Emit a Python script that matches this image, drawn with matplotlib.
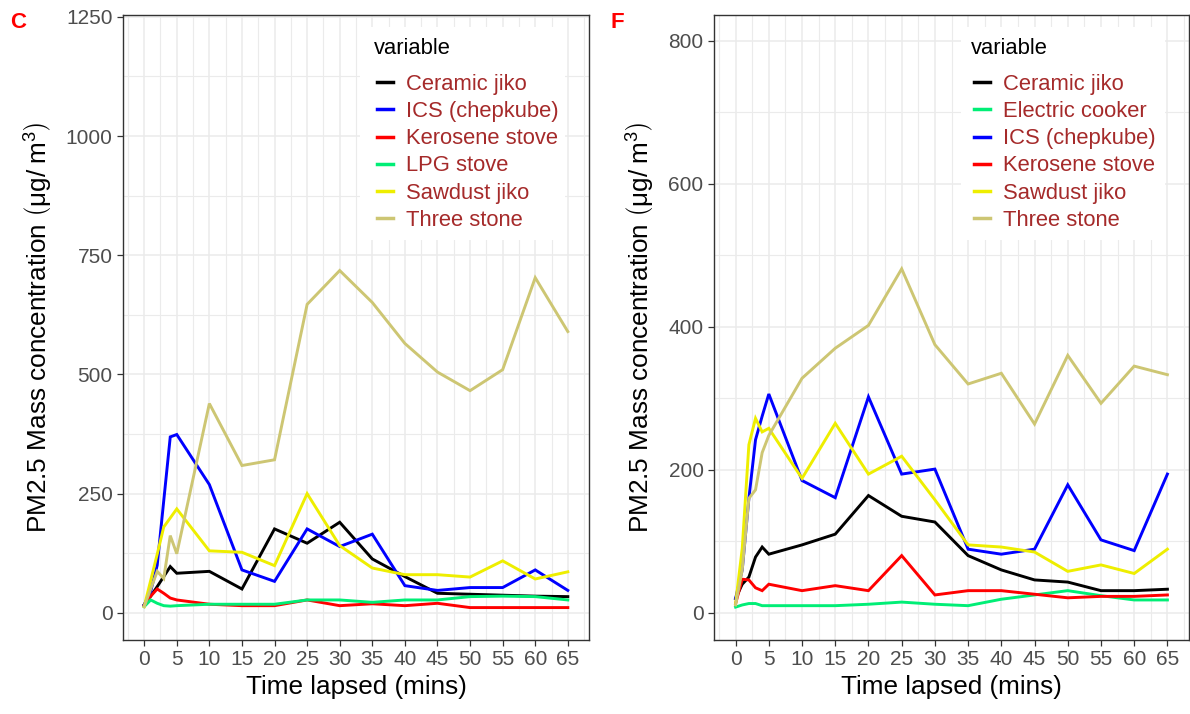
import matplotlib
matplotlib.use("Agg")
import matplotlib.pyplot as plt
from matplotlib.ticker import MultipleLocator
from matplotlib.patches import Rectangle

plt.rcParams['font.family'] = ['Liberation Sans', 'DejaVu Sans']
plt.rcParams['mathtext.fontset'] = 'custom'
plt.rcParams['mathtext.rm'] = 'Liberation Sans'
plt.rcParams['mathtext.it'] = 'Liberation Sans:italic'
plt.rcParams['mathtext.bf'] = 'Liberation Sans:bold'

# ---------------- data ----------------
time_min = [0, 1, 2, 3, 4, 5, 10, 15, 20, 25, 30, 35, 40, 45, 50, 55, 60, 65]

# Panel C
c_ceramic = [17, 35, 55, 76, 97, 83, 87, 50, 176, 146, 190, 113, 76, 41, 39, 37, 35, 34]
c_ics = [17, 45, 100, 235, 369, 374, 269, 90, 66, 176, 139, 165, 57, 47, 53, 53, 90, 47]
c_kerosene = [15, 35, 50, 41, 31, 27, 18, 15, 15, 27, 15, 19, 15, 20, 11, 11, 11, 11]
c_lpg = [13, 27, 20, 15, 14, 15, 18, 18, 18, 27, 27, 22, 27, 27, 34, 35, 34, 27]
c_sawdust = [13, 68, 123, 180, 199, 218, 130, 127, 99, 250, 141, 94, 80, 80, 75, 109, 71, 86]
c_three = [13, 50, 87, 72, 162, 124, 439, 309, 321, 647, 718, 651, 565, 505, 466, 510, 703, 590]

# Panel F
f_ceramic = [20, 40, 50, 78, 92, 82, 95, 110, 164, 135, 127, 80, 60, 46, 43, 31, 31, 33]
f_electric = [8, 11, 13, 13, 10, 10, 10, 10, 12, 15, 12, 10, 19, 25, 31, 24, 18, 18]
f_ics = [20, 60, 160, 242, 275, 306, 185, 161, 302, 194, 201, 89, 82, 89, 179, 102, 87, 194]
f_kerosene = [13, 47, 46, 35, 31, 40, 31, 38, 31, 80, 25, 31, 31, 26, 21, 23, 23, 25]
f_sawdust = [13, 90, 235, 272, 253, 258, 188, 265, 194, 219, 158, 95, 92, 85, 58, 67, 55, 89]
f_three = [11, 60, 160, 172, 224, 248, 328, 370, 402, 481, 375, 320, 335, 264, 360, 293, 345, 333]

labels_c = ["Ceramic jiko", "ICS (chepkube)", "Kerosene stove", "LPG stove", "Sawdust jiko", "Three stone"]
series_c = [c_ceramic, c_ics, c_kerosene, c_lpg, c_sawdust, c_three]
colors_c = ["#000000", "#0000FF", "#FF0000", "#00EE76", "#EEEE00", "#CDC673"]

labels_f = ["Ceramic jiko", "Electric cooker", "ICS (chepkube)", "Kerosene stove", "Sawdust jiko", "Three stone"]
series_f = [f_ceramic, f_electric, f_ics, f_kerosene, f_sawdust, f_three]
colors_f = ["#000000", "#00EE76", "#0000FF", "#FF0000", "#EEEE00", "#CDC673"]

x_ticks = list(range(0, 70, 5))

W, H = 1190, 714
fig = plt.figure(figsize=(W / 100, H / 100), dpi=100)

def fx(px):
    return px / W

def fy(py):
    return 1 - py / H

def add_axes_px(x0, x1, y0, y1):
    return fig.add_axes([x0 / W, 1 - y1 / H, (x1 - x0) / W, (y1 - y0) / H])

ax_c = add_axes_px(123, 589, 15, 640)
ax_f = add_axes_px(714, 1189, 15, 640)

ylabel = r"PM2.5 Mass concentration $\left(\mathrm{\mu g/\;m^{3}}\right)$"

def style(ax, ylim, ymaj, ymin):
    ax.set_xlim(-3.25, 68.25)
    ax.set_ylim(*ylim)
    ax.set_xticks(x_ticks)
    ax.xaxis.set_minor_locator(MultipleLocator(2.5))
    ax.yaxis.set_major_locator(MultipleLocator(ymaj))
    ax.yaxis.set_minor_locator(MultipleLocator(ymin))
    ax.grid(which='major', color='#EBEBEB', lw=1.1)
    ax.grid(which='minor', color='#EBEBEB', lw=0.8)
    ax.set_axisbelow(True)
    ax.tick_params(which='major', length=4.5, width=0.9, color='#333333',
                   labelsize=15, labelcolor='#4D4D4D', pad=3)
    ax.tick_params(which='minor', length=0)
    for s in ax.spines.values():
        s.set_color('#333333')
        s.set_linewidth(1.0)
    ax.set_xlabel("Time lapsed (mins)", fontsize=18.8, labelpad=4)
    ax.set_ylabel(ylabel, fontsize=18.8, labelpad=8)

def draw(ax, series, labels, colors):
    for y, lab, col in zip(series, labels, colors):
        ax.plot(time_min, y, color=col, lw=2.1, label=lab, solid_joinstyle='miter')

draw(ax_c, series_c, labels_c, colors_c)
draw(ax_f, series_f, labels_f, colors_f)
style(ax_c, (-57, 1254), 250, 125)
style(ax_f, (-38, 836), 200, 100)

def add_legend(ax, box_x0, box_x1, title_x, key_x):
    # white legend background
    ax.add_patch(Rectangle((fx(box_x0), fy(240)), fx(box_x1) - fx(box_x0), fy(27) - fy(240),
                           transform=fig.transFigure, facecolor='white', edgecolor='none',
                           zorder=10, clip_on=False))
    fig.text(fx(title_x), fy(48), "variable", fontsize=15.8, color='black',
             ha='left', va='center', zorder=12)
    leg = ax.legend(loc='upper left', bbox_to_anchor=(fx(key_x), fy(74)),
                    bbox_transform=fig.transFigure,
                    fontsize=15.8, frameon=False,
                    handlelength=0.72, handletextpad=0.6,
                    labelspacing=0.28, borderpad=0, borderaxespad=0)
    leg.set_zorder(11)
    for t in leg.get_texts():
        t.set_color('#A52A2A')
    for l in leg.get_lines():
        l.set_linewidth(2.5)
    return leg

add_legend(ax_c, 360, 565, 374, 377)
add_legend(ax_f, 961, 1165, 971, 974)

fig.text(fx(10), fy(22), "C", color='#FF0000', fontsize=16, fontweight='bold',
         ha='left', va='center')
fig.text(fx(611), fy(22), "F", color='#FF0000', fontsize=16, fontweight='bold',
         ha='left', va='center')

fig.savefig("out.png", dpi=100)
